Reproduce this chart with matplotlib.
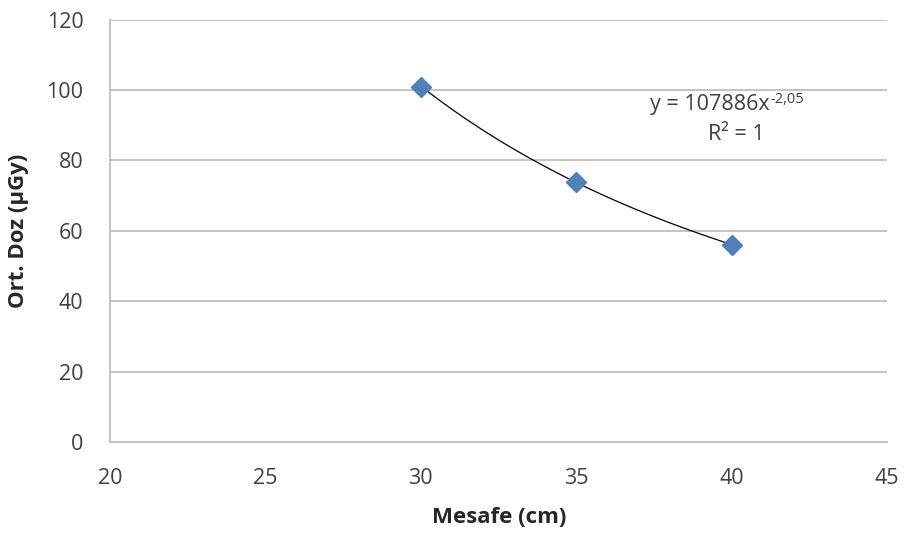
import matplotlib.pyplot as plt
import numpy as np

# veriler
mesafe = [30, 35, 40]          # cm
doz = [101, 74, 56]            # µGy
x_ticks = [20, 25, 30, 35, 40, 45]
y_ticks = [0, 20, 40, 60, 80, 100, 120]

plt.rcParams['font.family'] = ['Open Sans', 'DejaVu Sans']

fig = plt.figure(figsize=(9.08, 5.35), dpi=100)
ax = fig.add_axes([0.121, 0.174, 0.856, 0.789])

# üssel trend çizgisi (log-log doğrusal uydurma)
b, ln_a = np.polyfit(np.log(mesafe), np.log(doz), 1)
xs = np.linspace(min(mesafe), max(mesafe), 100)
ax.plot(xs, np.exp(ln_a) * xs ** b, color='black', linewidth=0.9, zorder=2)

ax.plot(mesafe, doz, linestyle='none', marker='D', markersize=10.5,
        color='#4F81BD', markeredgecolor='#4A7EBB', zorder=3)

ax.set_xlim(20, 45)
ax.set_ylim(0, 120)
ax.set_xticks(x_ticks)
ax.set_yticks(y_ticks)
ax.grid(axis='y', color='#BEBEBE', linewidth=1.3)
ax.set_axisbelow(True)
for s in ['top', 'right']:
    ax.spines[s].set_visible(False)
for s in ['left', 'bottom']:
    ax.spines[s].set_color('#BEBEBE')
    ax.spines[s].set_linewidth(1.3)
ax.tick_params(length=0, labelsize=15.5, labelcolor='#404040')
ax.tick_params(axis='y', pad=19)
ax.tick_params(axis='x', pad=19)

ax.set_xlabel('Mesafe (cm)', fontsize=16, fontweight='bold', color='#262626')
ax.set_ylabel('Ort. Doz (µGy)', fontsize=16, fontweight='bold', color='#262626')
ax.xaxis.label.set_va('center')
ax.yaxis.label.set_va('center')
ax.xaxis.set_label_coords(0.501, -0.18)
ax.yaxis.set_label_coords(-0.117, 0.5)

# denklem etiketi
t1 = ax.text(37.375, 95.8, 'y = 107886x', ha='left', va='center',
             fontsize=15.5, color='#404040')
ax.annotate('-2,05', xy=(1, 1), xycoords=t1, xytext=(0.5, 1.5),
            textcoords='offset points', ha='left', va='top',
            fontsize=10.5, color='#404040')
ax.text(40.14, 87.3, 'R² = 1', ha='center', va='center',
        fontsize=15.5, color='#404040')

fig.savefig('out.png', dpi=100)
